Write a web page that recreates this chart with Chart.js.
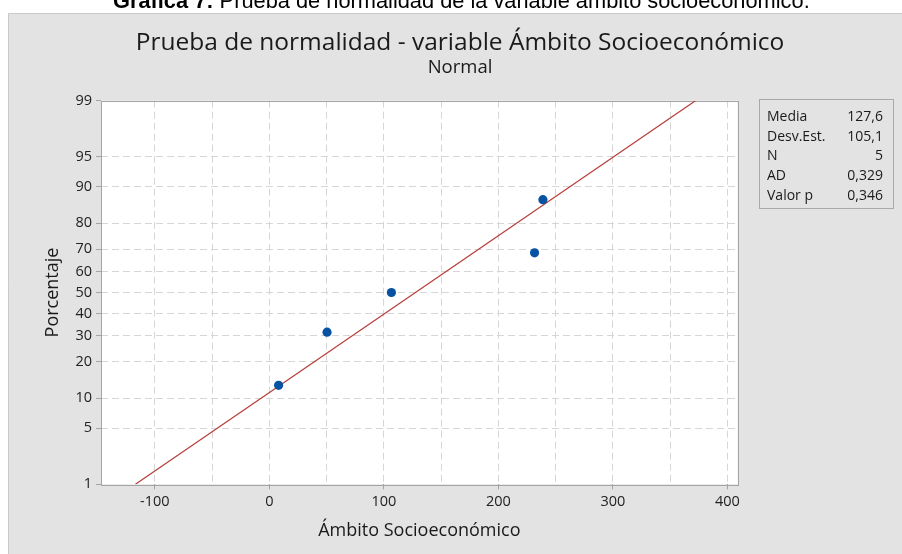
<!DOCTYPE html>
<html>
<head>
<meta charset="utf-8">
<script src="https://cdn.jsdelivr.net/npm/chart.js@4/dist/chart.umd.min.js"></script>
<style>
  html, body { margin: 0; padding: 0; background: #fff; }
  #wrap { position: relative; width: 902px; height: 554px; overflow: hidden; }
  #caption { position: absolute; left: 113px; top: -10px; font-family: "Liberation Sans", Arial, sans-serif; font-size: 21.8px; line-height: 21.8px; color: #000; white-space: nowrap; }
  #stats { position: absolute; left: 759px; top: 99px; width: 135px; height: 110px; box-sizing: border-box; border: 1px solid #a9a9a9; padding: 6px 10px 0 7px; font-family: "Open Sans", sans-serif; font-size: 14px; color: #1a1a1a; }
  #stats div { display: flex; justify-content: space-between; height: 19.7px; line-height: 19.7px; }
  canvas { position: absolute; left: 0; top: 0; }
</style>
</head>
<body>
<div id="wrap">
  <canvas id="chart" width="902" height="554"></canvas>
  <div id="caption"><b>Gráfica 7:</b> Prueba de normalidad de la variable ámbito socioeconómico.</div>
  <div id="stats"></div>
</div>
<script>
// datos
const ambito = [8.1, 50.4, 106.6, 231.6, 238.9];
const porcentaje = [13.0, 31.5, 50.0, 68.5, 87.0];

// recta de ajuste normal (extremos en 1% y 99%)
const ajusteX = [-116.9, 372.1];
const ajusteY = [1, 99];

const yTicks = [1, 5, 10, 20, 30, 40, 50, 60, 70, 80, 90, 95, 99];
const xTicks = [-100, -50, 0, 50, 100, 150, 200, 250, 300, 350, 400];

const statLabels = ['Media', 'Desv.Est.', 'N', 'AD', 'Valor p'];
const statValues = ['127,6', '105,1', '5', '0,329', '0,346'];

const statsBox = document.getElementById('stats');
statLabels.forEach((label, i) => {
    const row = document.createElement('div');
    row.innerHTML = `<span>${label}</span><span>${statValues[i]}</span>`;
    statsBox.appendChild(row);
});

// inversa de la normal (Acklam)
function probit(p) {
    const a = [-3.969683028665376e+01, 2.209460984245205e+02, -2.759285104469687e+02, 1.383577518672690e+02, -3.066479806614716e+01, 2.506628277459239e+00];
    const b = [-5.447609879822406e+01, 1.615858368580409e+02, -1.556989798598866e+02, 6.680131188771972e+01, -1.328068155288572e+01];
    const c = [-7.784894002430293e-03, -3.223964580411365e-01, -2.400758277161838e+00, -2.549732539343734e+00, 4.374664141464968e+00, 2.938163982698783e+00];
    const d = [7.784695709041462e-03, 3.224671290700398e-01, 2.445134137142996e+00, 3.754408661907416e+00];
    const pl = 0.02425;
    let q, r;
    if (p < pl) {
        q = Math.sqrt(-2 * Math.log(p));
        return (((((c[0]*q+c[1])*q+c[2])*q+c[3])*q+c[4])*q+c[5]) / ((((d[0]*q+d[1])*q+d[2])*q+d[3])*q+1);
    }
    if (p > 1 - pl) {
        q = Math.sqrt(-2 * Math.log(1 - p));
        return -(((((c[0]*q+c[1])*q+c[2])*q+c[3])*q+c[4])*q+c[5]) / ((((d[0]*q+d[1])*q+d[2])*q+d[3])*q+1);
    }
    q = p - 0.5;
    r = q * q;
    return (((((a[0]*r+a[1])*r+a[2])*r+a[3])*r+a[4])*r+a[5])*q / (((((b[0]*r+b[1])*r+b[2])*r+b[3])*r+b[4])*r+1);
}

function normCdf(z) {
    const t = 1 / (1 + 0.2316419 * Math.abs(z));
    const poly = t * (0.319381530 + t * (-0.356563782 + t * (1.781477937 + t * (-1.821255978 + t * 1.330274429))));
    const v = 1 - Math.exp(-z * z / 2) / Math.sqrt(2 * Math.PI) * poly;
    return z >= 0 ? v : 1 - v;
}

// escala de probabilidad normal
class ProbitScale extends Chart.LinearScale {
    buildTicks() {
        return yTicks.map(v => ({ value: v }));
    }
    getPixelForValue(value) {
        const z0 = probit(this.min / 100);
        const z1 = probit(this.max / 100);
        return this.getPixelForDecimal((probit(value / 100) - z0) / (z1 - z0));
    }
    getValueForPixel(pixel) {
        const z0 = probit(this.min / 100);
        const z1 = probit(this.max / 100);
        return 100 * normCdf(z0 + this.getDecimalForPixel(pixel) * (z1 - z0));
    }
}
ProbitScale.id = 'probit';
ProbitScale.defaults = Chart.LinearScale.defaults;
Chart.register(ProbitScale);

const panelPlugin = {
    id: 'panel',
    beforeDraw(chart) {
        const ctx = chart.ctx;
        const a = chart.chartArea;
        ctx.save();
        ctx.fillStyle = '#e3e3e3';
        ctx.fillRect(8, 13, 894, 541);
        ctx.strokeStyle = '#cacaca';
        ctx.lineWidth = 1;
        ctx.beginPath();
        ctx.moveTo(8.5, 554);
        ctx.lineTo(8.5, 13.5);
        ctx.lineTo(902, 13.5);
        ctx.stroke();
        ctx.fillStyle = '#ffffff';
        ctx.fillRect(a.left, a.top, a.right - a.left, a.bottom - a.top);
        ctx.restore();
    },
    beforeDatasetsDraw(chart) {
        const ctx = chart.ctx;
        const a = chart.chartArea;
        ctx.save();
        ctx.strokeStyle = '#a4a4a4';
        ctx.lineWidth = 1;
        ctx.strokeRect(Math.round(a.left) + 0.5, Math.round(a.top) + 0.5,
            Math.round(a.right - a.left), Math.round(a.bottom - a.top));
        ctx.restore();
    }
};

const tickFont = { family: 'Open Sans', size: 14.5 };
const gridColor = '#d6d6d6';

new Chart(document.getElementById('chart'), {
    type: 'scatter',
    data: {
        datasets: [
            {
                label: 'Datos',
                data: ambito.map((x, i) => ({ x: x, y: porcentaje[i] })),
                backgroundColor: '#0752a3',
                borderWidth: 0,
                pointRadius: 4.6,
                order: 0
            },
            {
                label: 'Ajuste',
                data: ajusteX.map((x, i) => ({ x: x, y: ajusteY[i] })),
                showLine: true,
                borderColor: '#b8413d',
                borderWidth: 1.3,
                pointRadius: 0,
                fill: false,
                order: 1
            }
        ]
    },
    options: {
        responsive: false,
        devicePixelRatio: 1,
        animation: false,
        events: [],
        layout: { padding: { left: 18, top: 13, right: 0, bottom: 0 } },
        plugins: {
            legend: { display: false },
            tooltip: { enabled: false },
            title: {
                display: true,
                text: 'Prueba de normalidad - variable Ámbito Socioeconómico',
                color: '#1a1a1a',
                font: { family: 'Open Sans', size: 24.5, weight: 'normal', lineHeight: 1.1 },
                padding: { top: 16.5, bottom: 0 }
            },
            subtitle: {
                display: true,
                text: 'Normal',
                color: '#1a1a1a',
                font: { family: 'Open Sans', size: 18.5, weight: 'normal', lineHeight: 1.2 },
                padding: { top: 0, bottom: 22.05 }
            }
        },
        scales: {
            x: {
                type: 'linear',
                min: -147,
                max: 409,
                afterBuildTicks: scale => { scale.ticks = xTicks.map(v => ({ value: v })); },
                afterFit: scale => { scale.height = 69.7; },
                ticks: {
                    autoSkip: false,
                    maxRotation: 0,
                    padding: 3.5,
                    color: '#222',
                    font: tickFont,
                    callback: v => (v % 100 === 0 ? v : '')
                },
                grid: {
                    color: gridColor,
                    tickLength: 5,
                    tickColor: c => (c.tick && c.tick.value % 100 === 0 ? '#a4a4a4' : 'rgba(0,0,0,0)')
                },
                border: { display: false, dash: [7, 4] },
                title: {
                    display: true,
                    text: 'Ámbito Socioeconómico',
                    color: '#1a1a1a',
                    font: { family: 'Open Sans', size: 18, lineHeight: 1.2 },
                    padding: { top: 0, bottom: 12.2 }
                }
            },
            y: {
                type: 'probit',
                min: 1,
                max: 99,
                afterFit: scale => { scale.width = 83; },
                ticks: {
                    autoSkip: false,
                    padding: 4,
                    color: '#222',
                    font: tickFont
                },
                grid: {
                    color: c => (c.tick && (c.tick.value === 1 || c.tick.value === 99) ? 'rgba(0,0,0,0)' : gridColor),
                    tickLength: 5,
                    tickColor: '#a4a4a4'
                },
                border: { display: false, dash: [7, 4] },
                title: {
                    display: true,
                    text: 'Porcentaje',
                    color: '#1a1a1a',
                    font: { family: 'Open Sans', size: 18, lineHeight: 1.2 },
                    padding: { top: 24.2, bottom: 0 }
                }
            },
            derecha: {
                type: 'linear',
                position: 'right',
                afterFit: scale => { scale.width = 164.3; },
                ticks: { display: false },
                grid: { display: false },
                border: { display: false }
            }
        }
    },
    plugins: [panelPlugin]
});
</script>
</body>
</html>
